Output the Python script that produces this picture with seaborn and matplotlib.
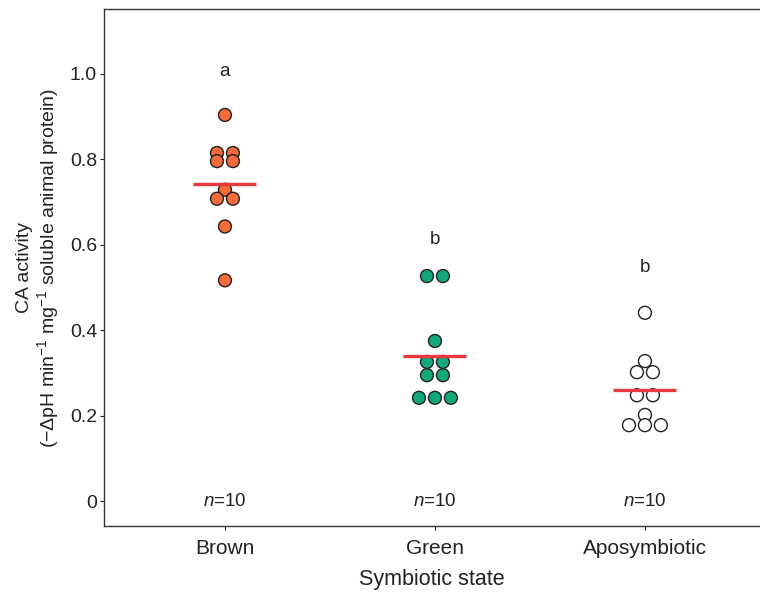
import numpy as np
import pandas as pd
import matplotlib
matplotlib.use("Agg")
import matplotlib.pyplot as plt
import seaborn as sns

categories = ["Brown", "Green", "Aposymbiotic"]
brown = [0.904, 0.815, 0.815, 0.796, 0.796, 0.729, 0.708, 0.708, 0.643, 0.517]
green = [0.527, 0.527, 0.375, 0.326, 0.326, 0.295, 0.295, 0.242, 0.242, 0.242]
apo = [0.441, 0.328, 0.302, 0.302, 0.248, 0.248, 0.202, 0.178, 0.178, 0.178]
letters = ["a", "b", "b"]
letter_y = [1.005, 0.612, 0.547]
n_labels = ["10", "10", "10"]
yticks = [0, 0.2, 0.4, 0.6, 0.8, 1.0]
ytick_labels = ["0", "0.2", "0.4", "0.6", "0.8", "1.0"]
colors = ["#F26B38", "#12A87A", "#FFFFFF"]

df = pd.DataFrame({
    "state": np.repeat(categories, 10),
    "value": brown + green + apo,
})
df["cat"] = df["state"].map({c: i for i, c in enumerate(categories)})

# beeswarm-style centered offsets for tied values
spacing = 0.076
df["rank"] = df.groupby(["state", "value"]).cumcount()
df["k"] = df.groupby(["state", "value"])["value"].transform("size")
df["xpos"] = df["cat"] + (df["rank"] - (df["k"] - 1) / 2) * spacing

sns.set_theme(style="white")
plt.rcParams["font.family"] = ["Liberation Sans", "DejaVu Sans"]
plt.rcParams["mathtext.fontset"] = "custom"
plt.rcParams["mathtext.rm"] = "Liberation Sans"
plt.rcParams["mathtext.it"] = "Liberation Sans:italic"

fig = plt.figure(figsize=(7.6, 5.93), dpi=100)
ax = fig.add_axes([104 / 760, (593 - 526) / 593, (760 - 104) / 760, (526 - 9) / 593])

sns.scatterplot(data=df, x="xpos", y="value", hue="state", hue_order=categories,
                palette=colors, s=9.3 ** 2, edgecolor="#222222", linewidth=1.0,
                legend=False, ax=ax, zorder=3)

means = df.groupby("state")["value"].mean().reindex(categories)
for i, m in enumerate(means):
    ax.plot([i - 0.15, i + 0.15], [m, m], color="#E8383D", lw=2.4, zorder=4,
            solid_capstyle="butt")

for i, (lt, ly) in enumerate(zip(letters, letter_y)):
    ax.text(i, ly, lt, ha="center", va="center", fontsize=13.5, color="#222222")
    ax.text(i, 0.0, r"$\it{n}$=" + n_labels[i], ha="center", va="center",
            fontsize=13.5, color="#222222")

ax.set_xlim(-0.576, 2.548)
ax.set_ylim(-0.058, 1.152)
ax.set_xticks(range(len(categories)))
ax.set_xticklabels(categories)
ax.set_yticks(yticks)
ax.set_yticklabels(ytick_labels)
ax.tick_params(axis="both", colors="#222222", length=3, width=0.8,
               direction="out", left=True, bottom=True)
ax.tick_params(axis="y", labelsize=14, pad=2)
ax.tick_params(axis="x", labelsize=15, pad=6)
ax.set_xlabel("Symbiotic state", fontsize=15.5, color="#222222", labelpad=8)
ax.set_ylabel("CA activity\n(−ΔpH min$^{−1}$ mg$^{−1}$ soluble animal protein)",
              fontsize=14, color="#222222", labelpad=6, linespacing=1.15)
for s in ["left", "bottom", "top"]:
    ax.spines[s].set_color("#333333")
    ax.spines[s].set_linewidth(1.0)
ax.spines["right"].set_visible(False)

fig.savefig("out.png", dpi=100)
